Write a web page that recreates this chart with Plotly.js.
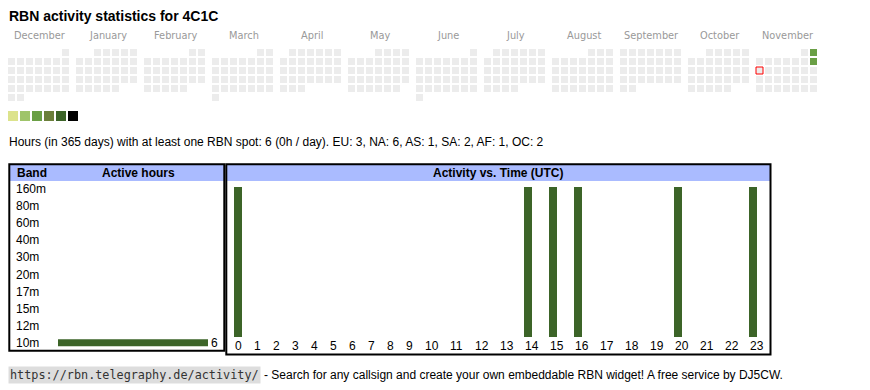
<!DOCTYPE html>
<html><head><meta charset="utf-8">
<script src="https://cdn.plot.ly/plotly-3.0.1.min.js"></script>
<style>html,body{margin:0;padding:0;background:#fff;overflow:hidden}</style>
</head><body><div id="chart" style="width:870px;height:390px"></div>
<script>
// ---------------- data ----------------
const callsign = "4C1C";
const startDate = "2024-12-01";
const dayCount = 365;
const todayDate = "2025-11-10";
const monthNames = ["December","January","February","March","April","May","June","July","August","September","October","November"];
const activeDates = ["2025-11-02","2025-11-09"];
const activeLevels = [3, 3];
const levelColors = ["#dce38c","#9fc46a","#6a9f45","#6b7f3a","#3c6428","#000000"];
const levels = [1, 2, 3, 4, 5, 6];
const emptyColor = "#ececec";
const bands = ["160m","80m","60m","40m","30m","20m","17m","15m","12m","10m"];
const bandHours = [0, 0, 0, 0, 0, 0, 0, 0, 0, 6];
const hourLabels = ["0","1","2","3","4","5","6","7","8","9","10","11","12","13","14","15","16","17","18","19","20","21","22","23"];
const hourActivity = [1,0,0,0,0,0,0,0,0,0,0,0,0,0,1,1,1,0,0,0,1,0,0,1];
const summaryText = "Hours (in 365 days) with at least one RBN spot: 6 (0h / day). EU: 3, NA: 6, AS: 1, SA: 2, AF: 1, OC: 2";
const footerLink = "https://rbn.telegraphy.de/activity/";
const footerText = "- Search for any callsign and create your own embeddable RBN widget! A free service by DJ5CW.";

// ---------------- layout constants ----------------
const W = 870, H = 390;
const SANS = "Liberation Sans, Arial, sans-serif";
const CAL_LEFT = 8, CAL_TOP = 49, CELL = 7, PITCH = 9, BLOCK = 68;
const BAR_COLOR = levelColors[4];

// calendar cells
const start = new Date(startDate + "T00:00:00Z");
const sY = start.getUTCFullYear(), sM = start.getUTCMonth();
const calX = [], calY = [], calC = [], calLW = [], calLC = [];
for (let i = 0; i < dayCount; i++) {
  const d = new Date(start.getTime() + i * 86400000);
  const iso = d.toISOString().slice(0, 10);
  const mIdx = (d.getUTCFullYear() - sY) * 12 + d.getUTCMonth() - sM;
  const first = new Date(Date.UTC(d.getUTCFullYear(), d.getUTCMonth(), 1));
  const firstWd = (first.getUTCDay() + 6) % 7;
  const wd = (d.getUTCDay() + 6) % 7;
  const row = Math.floor((d.getUTCDate() - 1 + firstWd) / 7);
  calX.push(CAL_LEFT + CELL / 2 + mIdx * BLOCK + wd * PITCH);
  calY.push(CAL_TOP + CELL / 2 + row * PITCH);
  const k = activeDates.indexOf(iso);
  calC.push(k >= 0 ? levelColors[activeLevels[k] - 1] : emptyColor);
  const isToday = iso === todayDate;
  calLW.push(isToday ? 1 : 0);
  calLC.push(isToday ? "#ff0000" : emptyColor);
}

// activity columns (auto width like an html table)
const ACT_LEFT = 228, PAD = 6, BAR_W = 8;
const colW = s => s.length > 1 ? 25 : 19;
const hourLeft = [];
let cx = ACT_LEFT;
hourLabels.forEach(l => { hourLeft.push(cx); cx += colW(l); });
const hourBarX = hourLeft.map(v => v + PAD + BAR_W / 2);

const py = v => (H - v) / H; // pixel y -> paper

const traces = [
  { type: "scatter", mode: "markers", x: calX, y: calY, xaxis: "x", yaxis: "y",
    marker: { symbol: "square", size: CELL, color: calC, line: { width: calLW, color: calLC } },
    hoverinfo: "skip" },
  { type: "scatter", mode: "markers", xaxis: "x", yaxis: "y",
    x: levels.map((l, i) => 8 + 5 + i * 12), y: levels.map(() => 116),
    marker: { symbol: "square", size: 10, color: levels.map(l => levelColors[l - 1]) },
    hoverinfo: "skip" },
  { type: "bar", orientation: "h", x: bandHours, y: bands, xaxis: "x2", yaxis: "y2",
    marker: { color: BAR_COLOR }, width: 0.41,
    text: bandHours.map(v => v > 0 ? String(v) : ""), textposition: "outside",
    textfont: { family: SANS, size: 12, color: "#000" }, cliponaxis: false, constraintext: "none",
    hoverinfo: "skip" },
  { type: "bar", x: hourBarX, y: hourActivity, xaxis: "x", yaxis: "y3",
    marker: { color: BAR_COLOR }, width: BAR_W, hoverinfo: "skip" }
];

const ann = [];
const A = (o) => ann.push(Object.assign({ showarrow: false, xref: "x", yref: "y", borderpad: 0 }, o));
A({ x: 8, y: 16, xanchor: "left", yanchor: "middle", text: "RBN activity statistics for " + callsign,
    font: { family: SANS, size: 14, color: "#000", weight: "bold" } });
monthNames.forEach((m, i) => A({ x: CAL_LEFT + i * BLOCK + (7 * PITCH - 2) / 2 + 1, y: 35.5, text: m,
    xanchor: "center", yanchor: "middle", font: { family: "DejaVu Sans, Verdana, sans-serif", size: 9.8, color: "#999" } }));
A({ x: 8, y: 142, xanchor: "left", yanchor: "middle", text: summaryText, font: { family: SANS, size: 12, color: "#000" } });
// band table
A({ x: 16, y: 173, xanchor: "left", yanchor: "middle", text: "Band", font: { family: SANS, size: 12, color: "#000", weight: "bold" } });
A({ x: 138, y: 173, xanchor: "center", yanchor: "middle", text: "Active hours", font: { family: SANS, size: 12, color: "#000", weight: "bold" } });
bands.forEach(b => A({ x: 15, y: b, yref: "y2", xanchor: "left", yanchor: "middle", text: b, font: { family: SANS, size: 12, color: "#000" } }));
// activity
A({ x: 498, y: 173, xanchor: "center", yanchor: "middle", text: "Activity vs. Time (UTC)", font: { family: SANS, size: 12, color: "#000", weight: "bold" } });
hourLabels.forEach((l, i) => A({ x: hourLeft[i] + PAD, y: 346, xanchor: "left", yanchor: "middle", text: l, font: { family: SANS, size: 12, color: "#000" } }));
// footer
A({ x: 8, y: 374.5, xanchor: "left", yanchor: "middle", text: footerLink, bgcolor: "#dddddd", borderpad: 1,
    font: { family: "DejaVu Sans Mono, monospace", size: 11.8, color: "#333" } });
A({ x: 263, y: 374.5, xanchor: "left", yanchor: "middle", text: footerText, font: { family: SANS, size: 12, color: "#000" } });

const shapes = [
  { type: "rect", xref: "x", yref: "y", x0: 10, x1: 224, y0: 165, y1: 181, fillcolor: "#aabbff", line: { width: 0 }, layer: "below" },
  { type: "rect", xref: "x", yref: "y", x0: 227, x1: 770, y0: 165, y1: 181, fillcolor: "#aabbff", line: { width: 0 }, layer: "below" },
  { type: "rect", xref: "x", yref: "y", x0: 9.3, x1: 224.3, y0: 164.3, y1: 350.8, line: { width: 2, color: "#000" } },
  { type: "rect", xref: "x", yref: "y", x0: 226.3, x1: 770.5, y0: 164.3, y1: 354.5, line: { width: 2, color: "#000" } }
];

const hidden = { visible: false, fixedrange: true, showgrid: false, zeroline: false };
const layout = {
  width: W, height: H, margin: { l: 0, r: 0, t: 0, b: 0 }, showlegend: false,
  paper_bgcolor: "#fff", plot_bgcolor: "rgba(0,0,0,0)", hovermode: false,
  font: { family: SANS, size: 12, color: "#000" },
  xaxis: Object.assign({ range: [0, W], domain: [0, 1], anchor: "y" }, hidden),
  yaxis: Object.assign({ range: [H, 0], domain: [0, 1], anchor: "x" }, hidden),
  xaxis2: Object.assign({ range: [0, Math.max(...bandHours)], domain: [58 / W, 208 / W], anchor: "y2" }, hidden),
  yaxis2: Object.assign({ type: "category", autorange: "reversed", domain: [py(351.2), py(180.8)], anchor: "x2" }, hidden),
  yaxis3: Object.assign({ range: [0, Math.max(...hourActivity)], domain: [py(337), py(187)], anchor: "x" }, hidden),
  shapes: shapes, annotations: ann
};
Plotly.newPlot("chart", traces, layout, { displayModeBar: false, staticPlot: true });
</script></body></html>
